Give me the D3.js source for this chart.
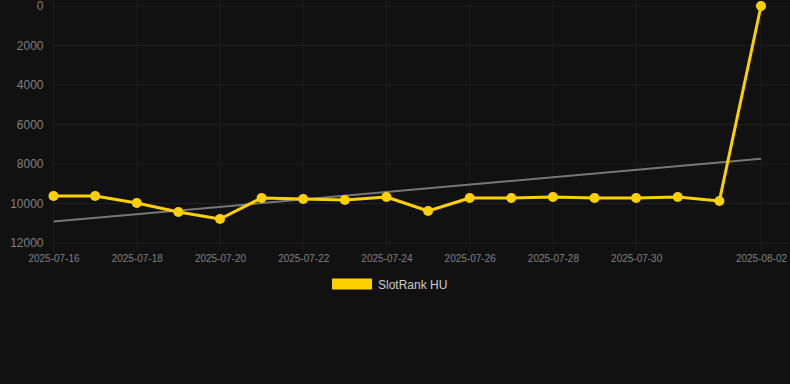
<!DOCTYPE html>
<html><head><meta charset="utf-8">
<script src="https://cdn.jsdelivr.net/npm/d3@7"></script>
<style>html,body{margin:0;padding:0;background:#111111;}svg{display:block;}</style>
</head><body>
<svg id="c" width="790" height="384"></svg>
<script>
const dates = ["2025-07-16","2025-07-17","2025-07-18","2025-07-19","2025-07-20","2025-07-21","2025-07-22","2025-07-23","2025-07-24","2025-07-25","2025-07-26","2025-07-27","2025-07-28","2025-07-29","2025-07-30","2025-07-31","2025-08-01","2025-08-02"];
const ranks = [9620,9620,9975,10430,10785,9720,9770,9820,9670,10380,9720,9720,9670,9720,9720,9670,9870,1];
const xTickLabels = ["2025-07-16","2025-07-18","2025-07-20","2025-07-22","2025-07-24","2025-07-26","2025-07-28","2025-07-30","2025-08-02"];
const yTicks = [0,2000,4000,6000,8000,10000,12000];
const seriesName = "SlotRank HU";

const svg = d3.select("#c");
const W = 790, H = 384;
const m = {left:53.5, right:761, top:6, bottom:243};
const parse = d3.utcParse("%Y-%m-%d");
const xs = d3.scaleUtc().domain([parse(dates[0]), parse(dates[dates.length-1])]).range([m.left, m.right]);
const ys = d3.scaleLinear().domain([0,12000]).range([m.top, m.bottom]);

svg.append("rect").attr("width",W).attr("height",H).attr("fill","#111111");

// grid
const g = svg.append("g");
g.selectAll("line.h").data(yTicks).join("line")
  .attr("x1",m.left).attr("x2",790).attr("y1",d=>ys(d)).attr("y2",d=>ys(d))
  .attr("stroke","#1f1f1f").attr("stroke-width",1);
g.selectAll("line.v").data(xTickLabels).join("line")
  .attr("x1",d=>xs(parse(d))).attr("x2",d=>xs(parse(d)))
  .attr("y1",m.top-6).attr("y2",m.bottom+7)
  .attr("stroke","#1c1c1c").attr("stroke-width",1);

// y axis
const yAxis = d3.axisLeft(ys).tickValues(yTicks).tickSize(0).tickPadding(10).tickFormat(d3.format("d"));
const ya = svg.append("g").attr("transform",`translate(${m.left},0)`).call(yAxis);
ya.select(".domain").remove();
ya.selectAll("text").attr("fill","#808080").attr("font-family","Arial, Liberation Sans, sans-serif").attr("font-size","12px");

// x axis
const xAxis = d3.axisBottom(xs).tickValues(xTickLabels.map(parse)).tickSize(0).tickPadding(12).tickFormat(d3.utcFormat("%Y-%m-%d"));
const xa = svg.append("g").attr("transform",`translate(0,${m.bottom})`).call(xAxis);
xa.select(".domain").remove();
xa.selectAll("text").attr("fill","#808080").attr("font-family","Arial, Liberation Sans, sans-serif").attr("font-size","10px");

// trend line (least squares)
const n = ranks.length;
const xi = d3.range(n);
const mx = d3.mean(xi), my = d3.mean(ranks);
const sxy = d3.sum(xi, i => (i-mx)*(ranks[i]-my));
const sxx = d3.sum(xi, i => (i-mx)*(i-mx));
const slope = sxy/sxx, icpt = my - slope*mx;
svg.append("line")
  .attr("x1",xs(parse(dates[0]))).attr("y1",ys(icpt))
  .attr("x2",xs(parse(dates[n-1]))).attr("y2",ys(icpt+slope*(n-1)))
  .attr("stroke","#777").attr("stroke-width",2);

// series
const data = dates.map((d,i)=>({d:parse(d), v:ranks[i]}));
svg.append("path").datum(data)
  .attr("fill","none").attr("stroke","#FFD000").attr("stroke-width",3)
  .attr("stroke-linejoin","round")
  .attr("d", d3.line().x(d=>xs(d.d)).y(d=>ys(d.v)));
svg.selectAll("circle.p").data(data).join("circle")
  .attr("cx",d=>xs(d.d)).attr("cy",d=>ys(d.v)).attr("r",5)
  .attr("fill","#FFD000");

// legend
svg.append("rect").attr("x",332).attr("y",278.5).attr("width",40).attr("height",11).attr("fill","#FFD000");
svg.append("text").attr("x",378).attr("y",288.5).text(seriesName)
  .attr("fill","#ccc").attr("font-family","Arial, Liberation Sans, sans-serif").attr("font-size","12px");
</script>
</body></html>
